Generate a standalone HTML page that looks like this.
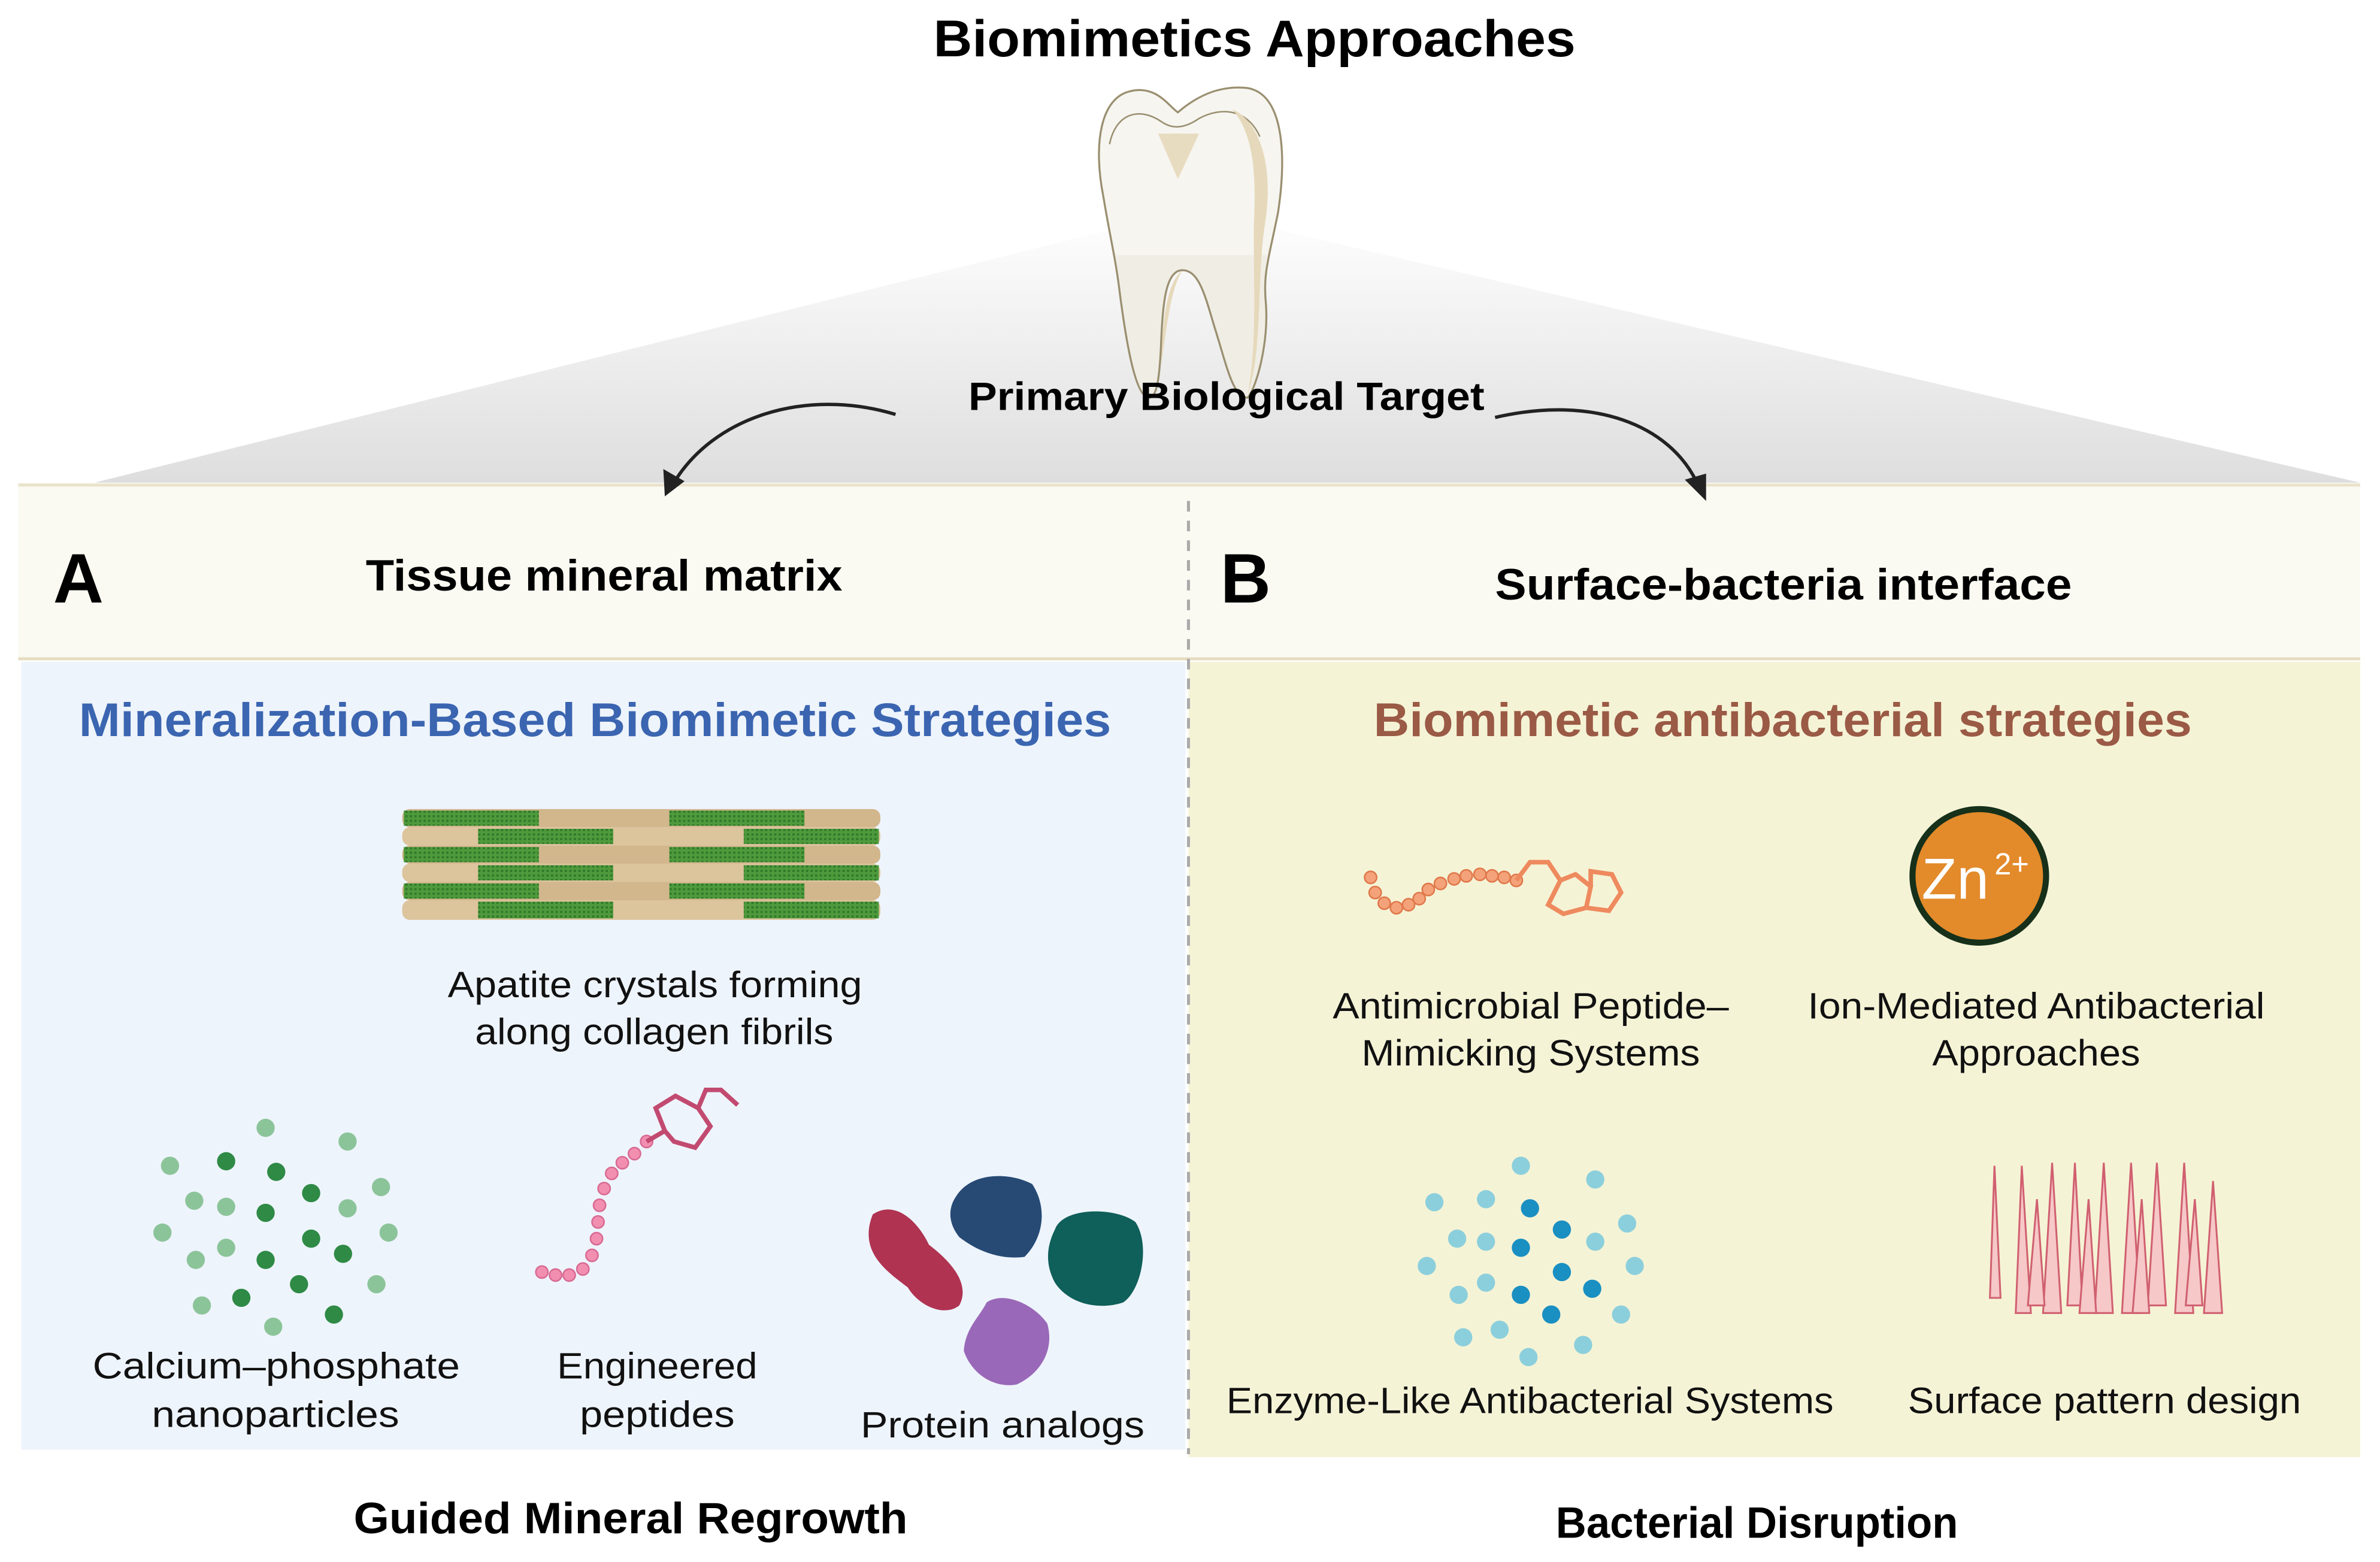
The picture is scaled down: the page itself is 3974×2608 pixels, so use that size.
<!DOCTYPE html>
<html><head><meta charset="utf-8"><style>html,body{margin:0;padding:0;background:#fff}svg{display:block}text{font-family:"Liberation Sans",Arial,sans-serif}</style></head>
<body>
<svg width="3974" height="2608" viewBox="0 0 1568 1029" xmlns="http://www.w3.org/2000/svg">
<defs>
<linearGradient id="tri" x1="0" y1="0" x2="0" y2="1"><stop offset="0" stop-color="#ffffff"/><stop offset="1" stop-color="#dedede"/></linearGradient>
<pattern id="gr" width="3" height="3" patternUnits="userSpaceOnUse"><rect width="3" height="3" fill="#4f9a3c"/><rect width="1.5" height="1.5" fill="#2f7a2a"/></pattern>
</defs>
<rect width="1568" height="1029" fill="#fff"/>
<polygon points="62,318 785,138 1555,318" fill="url(#tri)"/>
<rect x="12" y="319" width="1543" height="115" fill="#fafaf2"/>
<line x1="12" y1="319.5" x2="1555" y2="319.5" stroke="#e9e3cc" stroke-width="2"/>
<line x1="12" y1="434" x2="1555" y2="434" stroke="#e6dcc0" stroke-width="2"/>
<rect x="14" y="436" width="767" height="519" fill="#eef4fc"/>
<rect x="783" y="436" width="772" height="524" fill="#f5f3d6"/>
<line x1="783" y1="330" x2="783" y2="958" stroke="#aaa" stroke-width="2" stroke-dasharray="7,6"/>
<!-- tooth -->
<path d="M745,60 C762,56 770,70 776,74 C790,62 805,56 822,58 C845,62 848,100 842,140 C836,170 832,180 834,200 C836,225 828,255 822,262 C812,262 808,240 800,215 C794,195 790,178 779,178 C768,178 766,200 765,225 C764,250 762,262 757,262 C748,262 742,225 738,195 C735,170 732,160 727,130 C720,95 725,64 745,60 Z" fill="#efede4"/>
<path d="M745,60 C762,56 770,70 776,74 C790,62 805,56 822,58 C845,62 848,100 842,140 C839,155 836,162 835,168 L735,168 C732,155 730,145 727,130 C720,95 725,64 745,60 Z" fill="#f6f5f0"/>
<path d="M731,95 C735,75 750,70 765,80 C772,85 780,85 790,78 C805,70 822,72 830,90" fill="none" stroke="#9a8f70" stroke-width="1"/>
<path d="M763,88 L790,88 L776,118 Z" fill="#e8dcc0"/>
<path d="M812,72 C830,80 840,110 833,150 C828,185 832,230 822,260 C828,230 826,190 826,150 C828,110 825,88 812,72 Z" fill="#e6d9bb"/>
<path d="M779,178 C770,185 766,205 765,240 C770,205 772,190 779,178 Z" fill="#e6d9bb"/>
<path d="M745,60 C762,56 770,70 776,74 C790,62 805,56 822,58 C845,62 848,100 842,140 C836,170 832,180 834,200 C836,225 828,255 822,262 C812,262 808,240 800,215 C794,195 790,178 779,178 C768,178 766,200 765,225 C764,250 762,262 757,262 C748,262 742,225 738,195 C735,170 732,160 727,130 C720,95 725,64 745,60 Z" fill="none" stroke="#9a8f70" stroke-width="1.3"/>
<text x="615" y="37" font-size="34" font-weight="bold" textLength="423" lengthAdjust="spacingAndGlyphs">Biomimetics Approaches</text>
<text x="638" y="270" font-size="26" font-weight="bold" textLength="340" lengthAdjust="spacingAndGlyphs">Primary Biological Target</text>
<path d="M590,273 C530,255 470,275 444,318" fill="none" stroke="#222" stroke-width="2.2"/>
<polygon points="438,327 437,309 451,317" fill="#222"/>
<path d="M985,275 C1050,260 1100,280 1118,318" fill="none" stroke="#222" stroke-width="2.2"/>
<polygon points="1124,330 1110,316 1124,312" fill="#222"/>
<text x="35" y="397" font-size="46" font-weight="bold">A</text>
<text x="241" y="389" font-size="29" font-weight="bold" textLength="314" lengthAdjust="spacingAndGlyphs">Tissue mineral matrix</text>
<text x="804" y="397" font-size="46" font-weight="bold">B</text>
<text x="985" y="395" font-size="29" font-weight="bold" textLength="380" lengthAdjust="spacingAndGlyphs">Surface-bacteria interface</text>
<text x="52" y="485" font-size="31" font-weight="bold" fill="#3b65b0" textLength="680" lengthAdjust="spacingAndGlyphs">Mineralization-Based Biomimetic Strategies</text>
<text x="905" y="485" font-size="31" font-weight="bold" fill="#9a5a45" textLength="539" lengthAdjust="spacingAndGlyphs">Biomimetic antibacterial strategies</text>
<g>
<rect x="265" y="533" width="315" height="12" rx="5" fill="#d2b68c"/>
<rect x="265" y="545" width="315" height="12" rx="5" fill="#dcc49c"/>
<rect x="265" y="557" width="315" height="12" rx="5" fill="#d2b68c"/>
<rect x="265" y="569" width="315" height="12" rx="5" fill="#dcc49c"/>
<rect x="265" y="581" width="315" height="12" rx="5" fill="#d2b68c"/>
<rect x="265" y="593" width="315" height="13" rx="5" fill="#dcc49c"/>
<rect x="266" y="534" width="89" height="10" fill="url(#gr)"/><rect x="441" y="534" width="89" height="10" fill="url(#gr)"/>
<rect x="315" y="546" width="89" height="10" fill="url(#gr)"/><rect x="490" y="546" width="89" height="10" fill="url(#gr)"/>
<rect x="266" y="558" width="89" height="10" fill="url(#gr)"/><rect x="441" y="558" width="89" height="10" fill="url(#gr)"/>
<rect x="315" y="570" width="89" height="10" fill="url(#gr)"/><rect x="490" y="570" width="89" height="10" fill="url(#gr)"/>
<rect x="266" y="582" width="89" height="10" fill="url(#gr)"/><rect x="441" y="582" width="89" height="10" fill="url(#gr)"/>
<rect x="315" y="594" width="89" height="11" fill="url(#gr)"/><rect x="490" y="594" width="89" height="11" fill="url(#gr)"/>
</g>
<g font-size="24" fill="#111" lengthAdjust="spacingAndGlyphs">
<text x="295" y="657" textLength="273" lengthAdjust="spacingAndGlyphs">Apatite crystals forming</text>
<text x="313" y="688" textLength="236" lengthAdjust="spacingAndGlyphs">along collagen fibrils</text>
<text x="61" y="908" textLength="242" lengthAdjust="spacingAndGlyphs">Calcium–phosphate</text>
<text x="100" y="940" textLength="163" lengthAdjust="spacingAndGlyphs">nanoparticles</text>
<text x="367" y="908" textLength="132" lengthAdjust="spacingAndGlyphs">Engineered</text>
<text x="382" y="940" textLength="102" lengthAdjust="spacingAndGlyphs">peptides</text>
<text x="567" y="947" textLength="187" lengthAdjust="spacingAndGlyphs">Protein analogs</text>
<text x="878" y="671" textLength="261" lengthAdjust="spacingAndGlyphs">Antimicrobial Peptide–</text>
<text x="897" y="702" textLength="223" lengthAdjust="spacingAndGlyphs">Mimicking Systems</text>
<text x="1191" y="671" textLength="301" lengthAdjust="spacingAndGlyphs">Ion-Mediated Antibacterial</text>
<text x="1273" y="702" textLength="137" lengthAdjust="spacingAndGlyphs">Approaches</text>
<text x="808" y="931" textLength="400" lengthAdjust="spacingAndGlyphs">Enzyme-Like Antibacterial Systems</text>
<text x="1257" y="931" textLength="259" lengthAdjust="spacingAndGlyphs">Surface pattern design</text>
</g>
<g fill="#8cc49a">
<circle cx="175" cy="743" r="6"/><circle cx="229" cy="752" r="6"/><circle cx="112" cy="768" r="6"/><circle cx="251" cy="782" r="6"/>
<circle cx="128" cy="791" r="6"/><circle cx="149" cy="795" r="6"/><circle cx="229" cy="796" r="6"/><circle cx="107" cy="812" r="6"/>
<circle cx="256" cy="812" r="6"/><circle cx="149" cy="822" r="6"/><circle cx="248" cy="846" r="6"/><circle cx="133" cy="860" r="6"/>
<circle cx="180" cy="874" r="6"/><circle cx="129" cy="830" r="6"/>
</g>
<g fill="#2e8a45">
<circle cx="149" cy="765" r="6"/><circle cx="182" cy="772" r="6"/><circle cx="205" cy="786" r="6"/><circle cx="175" cy="799" r="6"/>
<circle cx="205" cy="816" r="6"/><circle cx="226" cy="826" r="6"/><circle cx="175" cy="830" r="6"/><circle cx="197" cy="846" r="6"/>
<circle cx="159" cy="855" r="6"/><circle cx="220" cy="866" r="6"/>
</g>
<g fill="#f28fb0" stroke="#d86a92" stroke-width="1">
<circle cx="357" cy="838" r="4"/><circle cx="366" cy="840" r="4"/><circle cx="375" cy="840" r="4"/><circle cx="384" cy="836" r="4"/>
<circle cx="390" cy="827" r="4"/><circle cx="393" cy="816" r="4"/><circle cx="394" cy="805" r="4"/><circle cx="395" cy="794" r="4"/>
<circle cx="398" cy="783" r="4"/><circle cx="403" cy="773" r="4"/><circle cx="410" cy="766" r="4"/><circle cx="418" cy="760" r="4"/><circle cx="426" cy="752" r="4"/>
</g>
<path d="M426,752 L438,745 M460,730 L465,718 L475,718 L486,728" fill="none" stroke="#c24a70" stroke-width="3"/>
<polygon points="445,722 460,730 468,742 458,756 444,752 438,745 432,730" fill="none" stroke="#c24a70" stroke-width="3"/>
<path d="M575,800 C590,790 605,805 612,820 C625,830 640,845 632,860 C622,868 605,860 598,848 C585,838 565,825 575,800 Z" fill="#b03352"/>
<path d="M630,788 C640,772 665,772 680,780 C690,795 688,815 675,828 C660,830 645,825 632,815 C624,805 625,795 630,788 Z" fill="#274a75"/>
<path d="M695,810 C700,795 735,795 748,805 C758,820 752,850 740,858 C725,863 705,860 695,845 C688,832 690,820 695,810 Z" fill="#0f5f5a"/>
<path d="M650,858 C662,850 682,860 690,872 C695,890 685,905 670,912 C655,915 640,905 635,890 C636,875 645,868 650,858 Z" fill="#9a68b8"/>
<g fill="#f4a27a" stroke="#e0784a" stroke-width="1">
<circle cx="903" cy="578" r="4"/><circle cx="906" cy="588" r="4"/><circle cx="912" cy="595" r="4"/><circle cx="920" cy="598" r="4"/>
<circle cx="928" cy="596" r="4"/><circle cx="935" cy="592" r="4"/><circle cx="941" cy="586" r="4"/><circle cx="949" cy="582" r="4"/>
<circle cx="958" cy="579" r="4"/><circle cx="966" cy="577" r="4"/><circle cx="975" cy="576" r="4"/><circle cx="983" cy="577" r="4"/><circle cx="991" cy="578" r="4"/><circle cx="999" cy="580" r="4"/>
</g>
<path d="M999,580 L1008,568 L1020,568 L1028,580 M1028,580 L1020,596 L1030,602 L1045,598 L1048,584 L1038,576 L1028,580 M1045,598 L1060,600 L1068,588 L1062,576 L1048,574 L1048,584" fill="none" stroke="#ee8a5e" stroke-width="3"/>
<circle cx="1304" cy="577" r="44" fill="#e38a2a" stroke="#16301a" stroke-width="4"/>
<text x="1266" y="592" font-size="38" fill="#fff">Zn</text>
<text x="1314" y="576" font-size="20" fill="#fff">2+</text>
<g fill="#8ccfdc">
<circle cx="1002" cy="768" r="6"/><circle cx="1051" cy="777" r="6"/><circle cx="945" cy="792" r="6"/><circle cx="979" cy="790" r="6"/>
<circle cx="1072" cy="806" r="6"/><circle cx="960" cy="816" r="6"/><circle cx="979" cy="818" r="6"/><circle cx="1051" cy="818" r="6"/>
<circle cx="940" cy="834" r="6"/><circle cx="1077" cy="834" r="6"/><circle cx="979" cy="845" r="6"/><circle cx="961" cy="853" r="6"/>
<circle cx="1068" cy="866" r="6"/><circle cx="964" cy="881" r="6"/><circle cx="988" cy="876" r="6"/><circle cx="1007" cy="894" r="6"/><circle cx="1043" cy="886" r="6"/>
</g>
<g fill="#1a8fc2">
<circle cx="1008" cy="796" r="6"/><circle cx="1029" cy="810" r="6"/><circle cx="1002" cy="822" r="6"/><circle cx="1029" cy="838" r="6"/>
<circle cx="1049" cy="849" r="6"/><circle cx="1002" cy="853" r="6"/><circle cx="1022" cy="866" r="6"/>
</g>
<g fill="#f6c8c8" stroke="#d06070" stroke-width="1.2">
<path d="M1311,855 L1314,768 L1318,855 Z"/><path d="M1328,865 L1332,768 L1338,865 Z"/><path d="M1346,865 L1352,766 L1358,865 Z"/>
<path d="M1362,860 L1367,766 L1372,860 Z"/><path d="M1380,865 L1386,766 L1392,865 Z"/><path d="M1398,865 L1404,766 L1410,865 Z"/>
<path d="M1415,860 L1421,766 L1427,860 Z"/><path d="M1433,865 L1439,766 L1445,865 Z"/><path d="M1452,865 L1458,778 L1464,865 Z"/>
<path d="M1336,860 L1342,790 L1347,860 Z"/><path d="M1370,865 L1376,790 L1381,865 Z"/><path d="M1405,865 L1411,790 L1416,865 Z"/><path d="M1440,860 L1446,790 L1451,860 Z"/>
</g>
<text x="233" y="1010" font-size="29" font-weight="bold" textLength="365" lengthAdjust="spacingAndGlyphs">Guided Mineral Regrowth</text>
<text x="1025" y="1013" font-size="29" font-weight="bold" textLength="265" lengthAdjust="spacingAndGlyphs">Bacterial Disruption</text>
</svg>
</body></html>
